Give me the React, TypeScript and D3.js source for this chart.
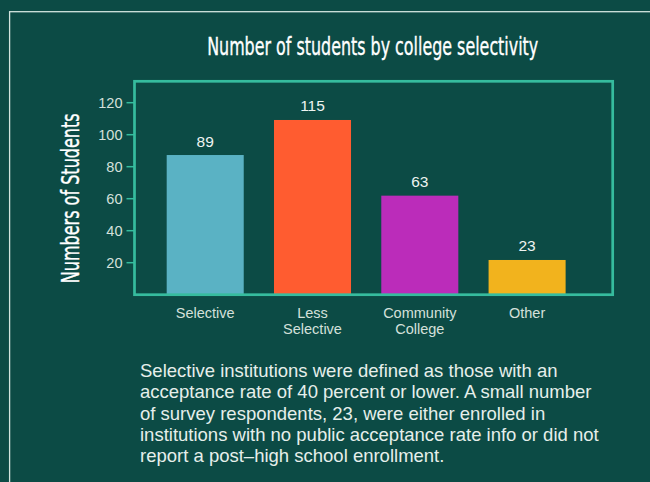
import React, { useLayoutEffect, useRef, useState } from "react";
import * as d3 from "d3";

const categories = ["Selective", "Less Selective", "Community College", "Other"];
const categoryLines = [["Selective"], ["Less", "Selective"], ["Community", "College"], ["Other"]];
const studentCounts = [89, 115, 63, 23];
const barValues = [87.3, 109.2, 61.9, 21.7];
const barColors = ["#5ab2c4", "#ff5c30", "#bb2cba", "#f2b31d"];
const yTicks = [20, 40, 60, 80, 100, 120];
const noteLines = [
  "Selective institutions were defined as those with an",
  "acceptance rate of 40 percent or lower. A small number",
  "of survey respondents, 23, were either enrolled in",
  "institutions with no public acceptance rate info or did not",
  "report a post\u2013high school enrollment.",
];

const W = 650;
const H = 482;
const BG = "#0c4b45";
const FRAME = "#36bc9e";
const SANS = "'Liberation Sans', Arial, Helvetica, sans-serif";
const NARROW = "'Liberation Sans Narrow', 'DejaVu Sans Condensed', 'Liberation Sans', sans-serif";

export default function App() {
  const titleRef = useRef<SVGTextElement>(null);
  const yTitleRef = useRef<SVGTextElement>(null);
  const [sx, setSx] = useState({ t: 0.892, y: 0.883 });

  useLayoutEffect(() => {
    const t = titleRef.current ? titleRef.current.getComputedTextLength() : 0;
    const yl = yTitleRef.current ? yTitleRef.current.getComputedTextLength() : 0;
    setSx({ t: t > 0 ? 331 / t : 0.892, y: yl > 0 ? 170 / yl : 0.883 });
  }, []);

  const left = 134.5;
  const right = 612.7;
  const top = 81.3;
  const bottom = 294.7;
  const y = d3.scaleLinear().domain([0, (bottom - top) / 1.6]).range([bottom, top]);
  const x = d3
    .scaleBand<string>()
    .domain(categories)
    .range([left, 597.8])
    .paddingInner(0.282)
    .paddingOuter(0.3);

  return (
    <svg
      width={W}
      height={H}
      viewBox={`0 0 ${W} ${H}`}
      style={{ position: "absolute", left: 0, top: 0, display: "block" }}
    >
      <rect x={0} y={0} width={W} height={H} fill={BG} />
      <rect x={9.6} y={11.7} width={700} height={600} fill="none" stroke="#d3e4de" strokeWidth={1.3} />

      <g transform={`translate(372.7,55) scale(${sx.t},1)`}>
        <text
          ref={titleRef}
          x={0}
          y={0}
          textAnchor="middle"
          fill="#ffffff"
          stroke="#ffffff"
          strokeWidth={0.35}
          fontFamily={NARROW}
          fontSize={25}
        >
          Number of students by college selectivity
        </text>
      </g>

      {categories.map((c, i) => (
        <rect
          key={c}
          x={x(c)}
          y={y(barValues[i])}
          width={x.bandwidth()}
          height={bottom - y(barValues[i])}
          fill={barColors[i]}
        />
      ))}

      {categories.map((c, i) => (
        <text
          key={"v" + c}
          x={(x(c) ?? 0) + x.bandwidth() / 2}
          y={y(barValues[i]) - 8.5}
          textAnchor="middle"
          fill="#eef4f1"
          fontFamily={SANS}
          fontSize={15.5}
        >
          {studentCounts[i]}
        </text>
      ))}

      <rect
        x={left}
        y={top}
        width={right - left}
        height={bottom - top}
        fill="none"
        stroke={FRAME}
        strokeWidth={2.7}
      />

      {yTicks.map((t) => (
        <g key={t} transform={`translate(0,${y(t)})`}>
          <line x1={126.5} x2={left} y1={0} y2={0} stroke={FRAME} strokeWidth={1.5} />
          <text
            x={122.5}
            y={0}
            dy="0.35em"
            textAnchor="end"
            fill="#d4e0db"
            fontFamily={SANS}
            fontSize={14.5}
          >
            {t}
          </text>
        </g>
      ))}

      {categories.map((c, i) => (
        <text
          key={"c" + c}
          x={(x(c) ?? 0) + x.bandwidth() / 2}
          y={318.3}
          textAnchor="middle"
          fill="#d4e0db"
          fontFamily={SANS}
          fontSize={14.5}
        >
          {categoryLines[i].map((ln, j) => (
            <tspan key={j} x={(x(c) ?? 0) + x.bandwidth() / 2} dy={j === 0 ? 0 : 16}>
              {ln}
            </tspan>
          ))}
        </text>
      ))}

      <g transform={`translate(79.3,198.3) rotate(-90) scale(${sx.y},1)`}>
        <text
          ref={yTitleRef}
          x={0}
          y={0}
          textAnchor="middle"
          fill="#ffffff"
          stroke="#ffffff"
          strokeWidth={0.35}
          fontFamily={NARROW}
          fontSize={25}
        >
          Numbers of Students
        </text>
      </g>

      {noteLines.map((ln, i) => (
        <text
          key={"n" + i}
          x={140}
          y={376.7 + i * 21.4}
          fill="#e6efeb"
          fontFamily={SANS}
          fontSize={18.5}
        >
          {ln}
        </text>
      ))}
    </svg>
  );
}
